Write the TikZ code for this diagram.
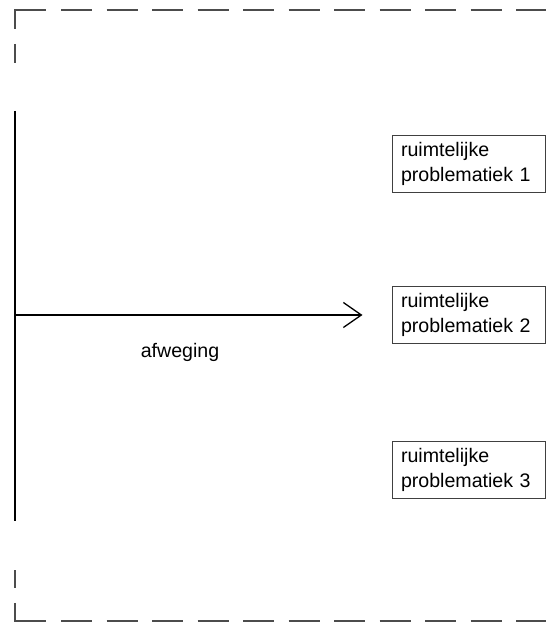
\documentclass[tikz,border=0pt]{standalone}
\usepackage{fontspec}
\setmainfont{Liberation Sans}
\usetikzlibrary{arrows.meta,positioning}
\tikzset{
  probbox/.style={draw=black!75,line width=1pt,fill=white,text width=135pt,align=left,
    inner xsep=9pt,inner ysep=7pt,font=\fontsize{19.6}{25}\selectfont},
  lbl/.style={font=\fontsize{19.6}{25}\selectfont},
  frameline/.style={draw=black!70,line width=1.3pt},
  framedash/.style={frameline,dash pattern=on 31pt off 14.5pt},
  spine/.style={line width=1.5pt},
  weigharrow/.style={-{Straight Barb[length=18pt,width=25pt]},line width=1.3pt}
}

\begin{document}
\begin{tikzpicture}[x=1pt,y=1pt]
  \useasboundingbox (0,0) rectangle (546,622);
  \draw[frameline] (15,593) |- (46,612);
  \draw[framedash] (61,612) -- (546,612);
  \draw[frameline] (15,578) -- (15,559);
  \draw[frameline] (15,19) |- (46,1);
  \draw[framedash] (61,1) -- (546,1);
  \draw[frameline] (15,34) -- (15,52);

  \node[probbox] (p1) at (468.5,458) {ruimtelijke\\problematiek 1};
  \node[probbox] (p2) at (468.5,307) {ruimtelijke\\problematiek 2};
  \node[probbox] (p3) at (468.5,152) {ruimtelijke\\problematiek 3};

  \coordinate (top) at (15,511);
  \coordinate (bot) at (15,101);
  \coordinate (root) at (15,307);
  \draw[spine] (top) -- (bot);
  \draw[weigharrow,shorten >=29pt] (root) -- (p2);
  \node[lbl] (afw) at (180,270) {afweging};
\end{tikzpicture}
\end{document}
